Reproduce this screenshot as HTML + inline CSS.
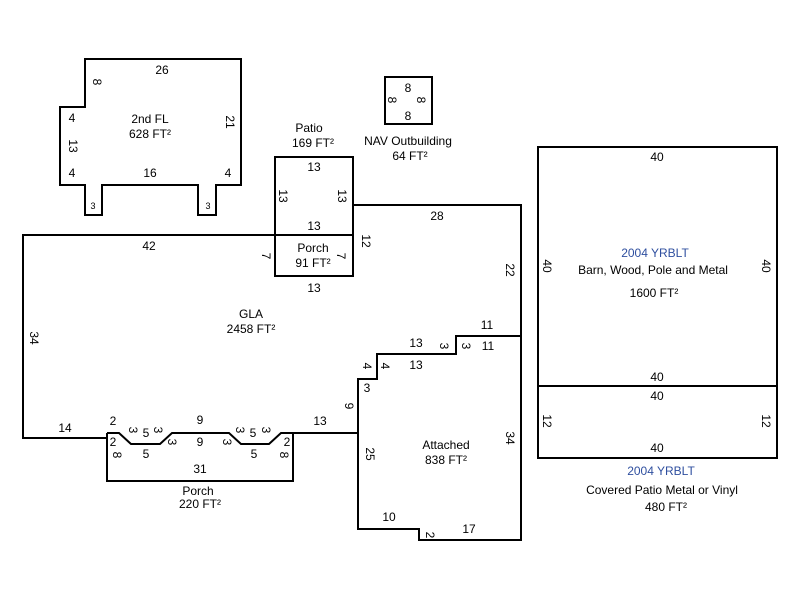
<!DOCTYPE html>
<html><head><meta charset="utf-8"><style>
html,body{margin:0;padding:0;background:#fff;}
svg{display:block;}
text{font-family:"Liberation Sans",Arial,sans-serif;font-size:12px;fill:#000;text-anchor:middle;}
.b{fill:#2f4f9f;}
</style></head><body>
<svg width="800" height="600" viewBox="0 0 800 600" xmlns="http://www.w3.org/2000/svg">
<g fill="none" stroke="#000" stroke-width="2">
<path d="M85,59 H241 V185 H216 V215 H198 V185 H102 V215 H85 V185 H60 V107 H85 Z"/>
<rect x="275" y="157" width="78" height="78"/>
<rect x="275" y="235" width="78" height="41"/>
<rect x="385" y="77" width="47" height="47"/>
<rect x="538" y="147" width="239" height="239"/>
<rect x="538" y="386" width="239" height="72"/>
<path d="M275,235 H23 V438 H107"/>
<path d="M353,205 H521 V336"/>
<path d="M107,433 V481 H293 V433 H281 L269,444 H241 L229,433 H172 L160,444 H131 L119,433 H107"/>
<path d="M293,433 H358"/>
<path d="M358,379 H377 V354 H456 V336 H521 V540 H419 V529 H358 Z"/>
</g>
<text x="162" y="74">26</text>
<text x="150" y="123">2nd FL</text>
<text x="150" y="138">628 FT²</text>
<text x="72" y="122">4</text>
<text x="72" y="177">4</text>
<text x="150" y="177">16</text>
<text x="228" y="177">4</text>
<text transform="translate(93,82) rotate(90)">8</text>
<text transform="translate(69,146) rotate(90)">13</text>
<text transform="translate(226,122) rotate(90)">21</text>
<text x="93" y="209" style="font-size:9px">3</text>
<text x="208" y="209" style="font-size:9px">3</text>
<text x="309" y="132">Patio</text>
<text x="313" y="147">169 FT²</text>
<text x="314" y="171">13</text>
<text x="314" y="230">13</text>
<text transform="translate(279,196) rotate(90)">13</text>
<text transform="translate(338,196) rotate(90)">13</text>
<text x="313" y="252">Porch</text>
<text x="313" y="267">91 FT²</text>
<text x="314" y="292">13</text>
<text transform="translate(262,256) rotate(90)">7</text>
<text transform="translate(337,256) rotate(90)">7</text>
<text transform="translate(362,241) rotate(90)">12</text>
<text x="408" y="92">8</text>
<text x="408" y="120">8</text>
<text transform="translate(388,100) rotate(90)">8</text>
<text transform="translate(417,100) rotate(90)">8</text>
<text x="408" y="145">NAV Outbuilding</text>
<text x="410" y="160">64 FT²</text>
<text x="149" y="250">42</text>
<text x="437" y="220">28</text>
<text transform="translate(506,270) rotate(90)">22</text>
<text transform="translate(30,338) rotate(90)">34</text>
<text x="251" y="318">GLA</text>
<text x="251" y="333">2458 FT²</text>
<text x="487" y="329">11</text>
<text x="65" y="432">14</text>
<text x="113" y="425">2</text>
<text x="320" y="425">13</text>
<text transform="translate(345,406) rotate(90)">9</text>
<text x="146" y="437">5</text>
<text x="200" y="424">9</text>
<text x="200" y="446">9</text>
<text x="253" y="437">5</text>
<text x="146" y="458">5</text>
<text x="254" y="458">5</text>
<text transform="translate(129,430) rotate(90)">3</text>
<text transform="translate(154,430) rotate(90)">3</text>
<text transform="translate(168,442) rotate(90)">3</text>
<text transform="translate(223,442) rotate(90)">3</text>
<text transform="translate(236,430) rotate(90)">3</text>
<text transform="translate(262,430) rotate(90)">3</text>
<text x="113" y="446">2</text>
<text x="287" y="446">2</text>
<text transform="translate(113,455) rotate(90)">8</text>
<text transform="translate(280,455) rotate(90)">8</text>
<text x="200" y="473">31</text>
<text x="198" y="495">Porch</text>
<text x="200" y="508">220 FT²</text>
<text x="416" y="347">13</text>
<text x="416" y="369">13</text>
<text x="488" y="350">11</text>
<text transform="translate(440,346) rotate(90)">3</text>
<text transform="translate(462,346) rotate(90)">3</text>
<text transform="translate(381,366) rotate(90)">4</text>
<text transform="translate(363,366) rotate(90)">4</text>
<text x="367" y="392">3</text>
<text transform="translate(366,454) rotate(90)">25</text>
<text transform="translate(506,438) rotate(90)">34</text>
<text x="446" y="449">Attached</text>
<text x="446" y="464">838 FT²</text>
<text x="389" y="521">10</text>
<text x="469" y="533">17</text>
<text transform="translate(426,535) rotate(90)">2</text>
<text x="657" y="161">40</text>
<text class="b" x="655" y="257">2004 YRBLT</text>
<text x="653" y="274">Barn, Wood, Pole and Metal</text>
<text x="654" y="297">1600 FT²</text>
<text transform="translate(543,266) rotate(90)">40</text>
<text transform="translate(762,266) rotate(90)">40</text>
<text x="657" y="381">40</text>
<text x="657" y="400">40</text>
<text x="657" y="452">40</text>
<text transform="translate(543,421) rotate(90)">12</text>
<text transform="translate(762,421) rotate(90)">12</text>
<text class="b" x="661" y="475">2004 YRBLT</text>
<text x="662" y="494">Covered Patio Metal or Vinyl</text>
<text x="666" y="511">480 FT²</text>
</svg>
</body></html>
